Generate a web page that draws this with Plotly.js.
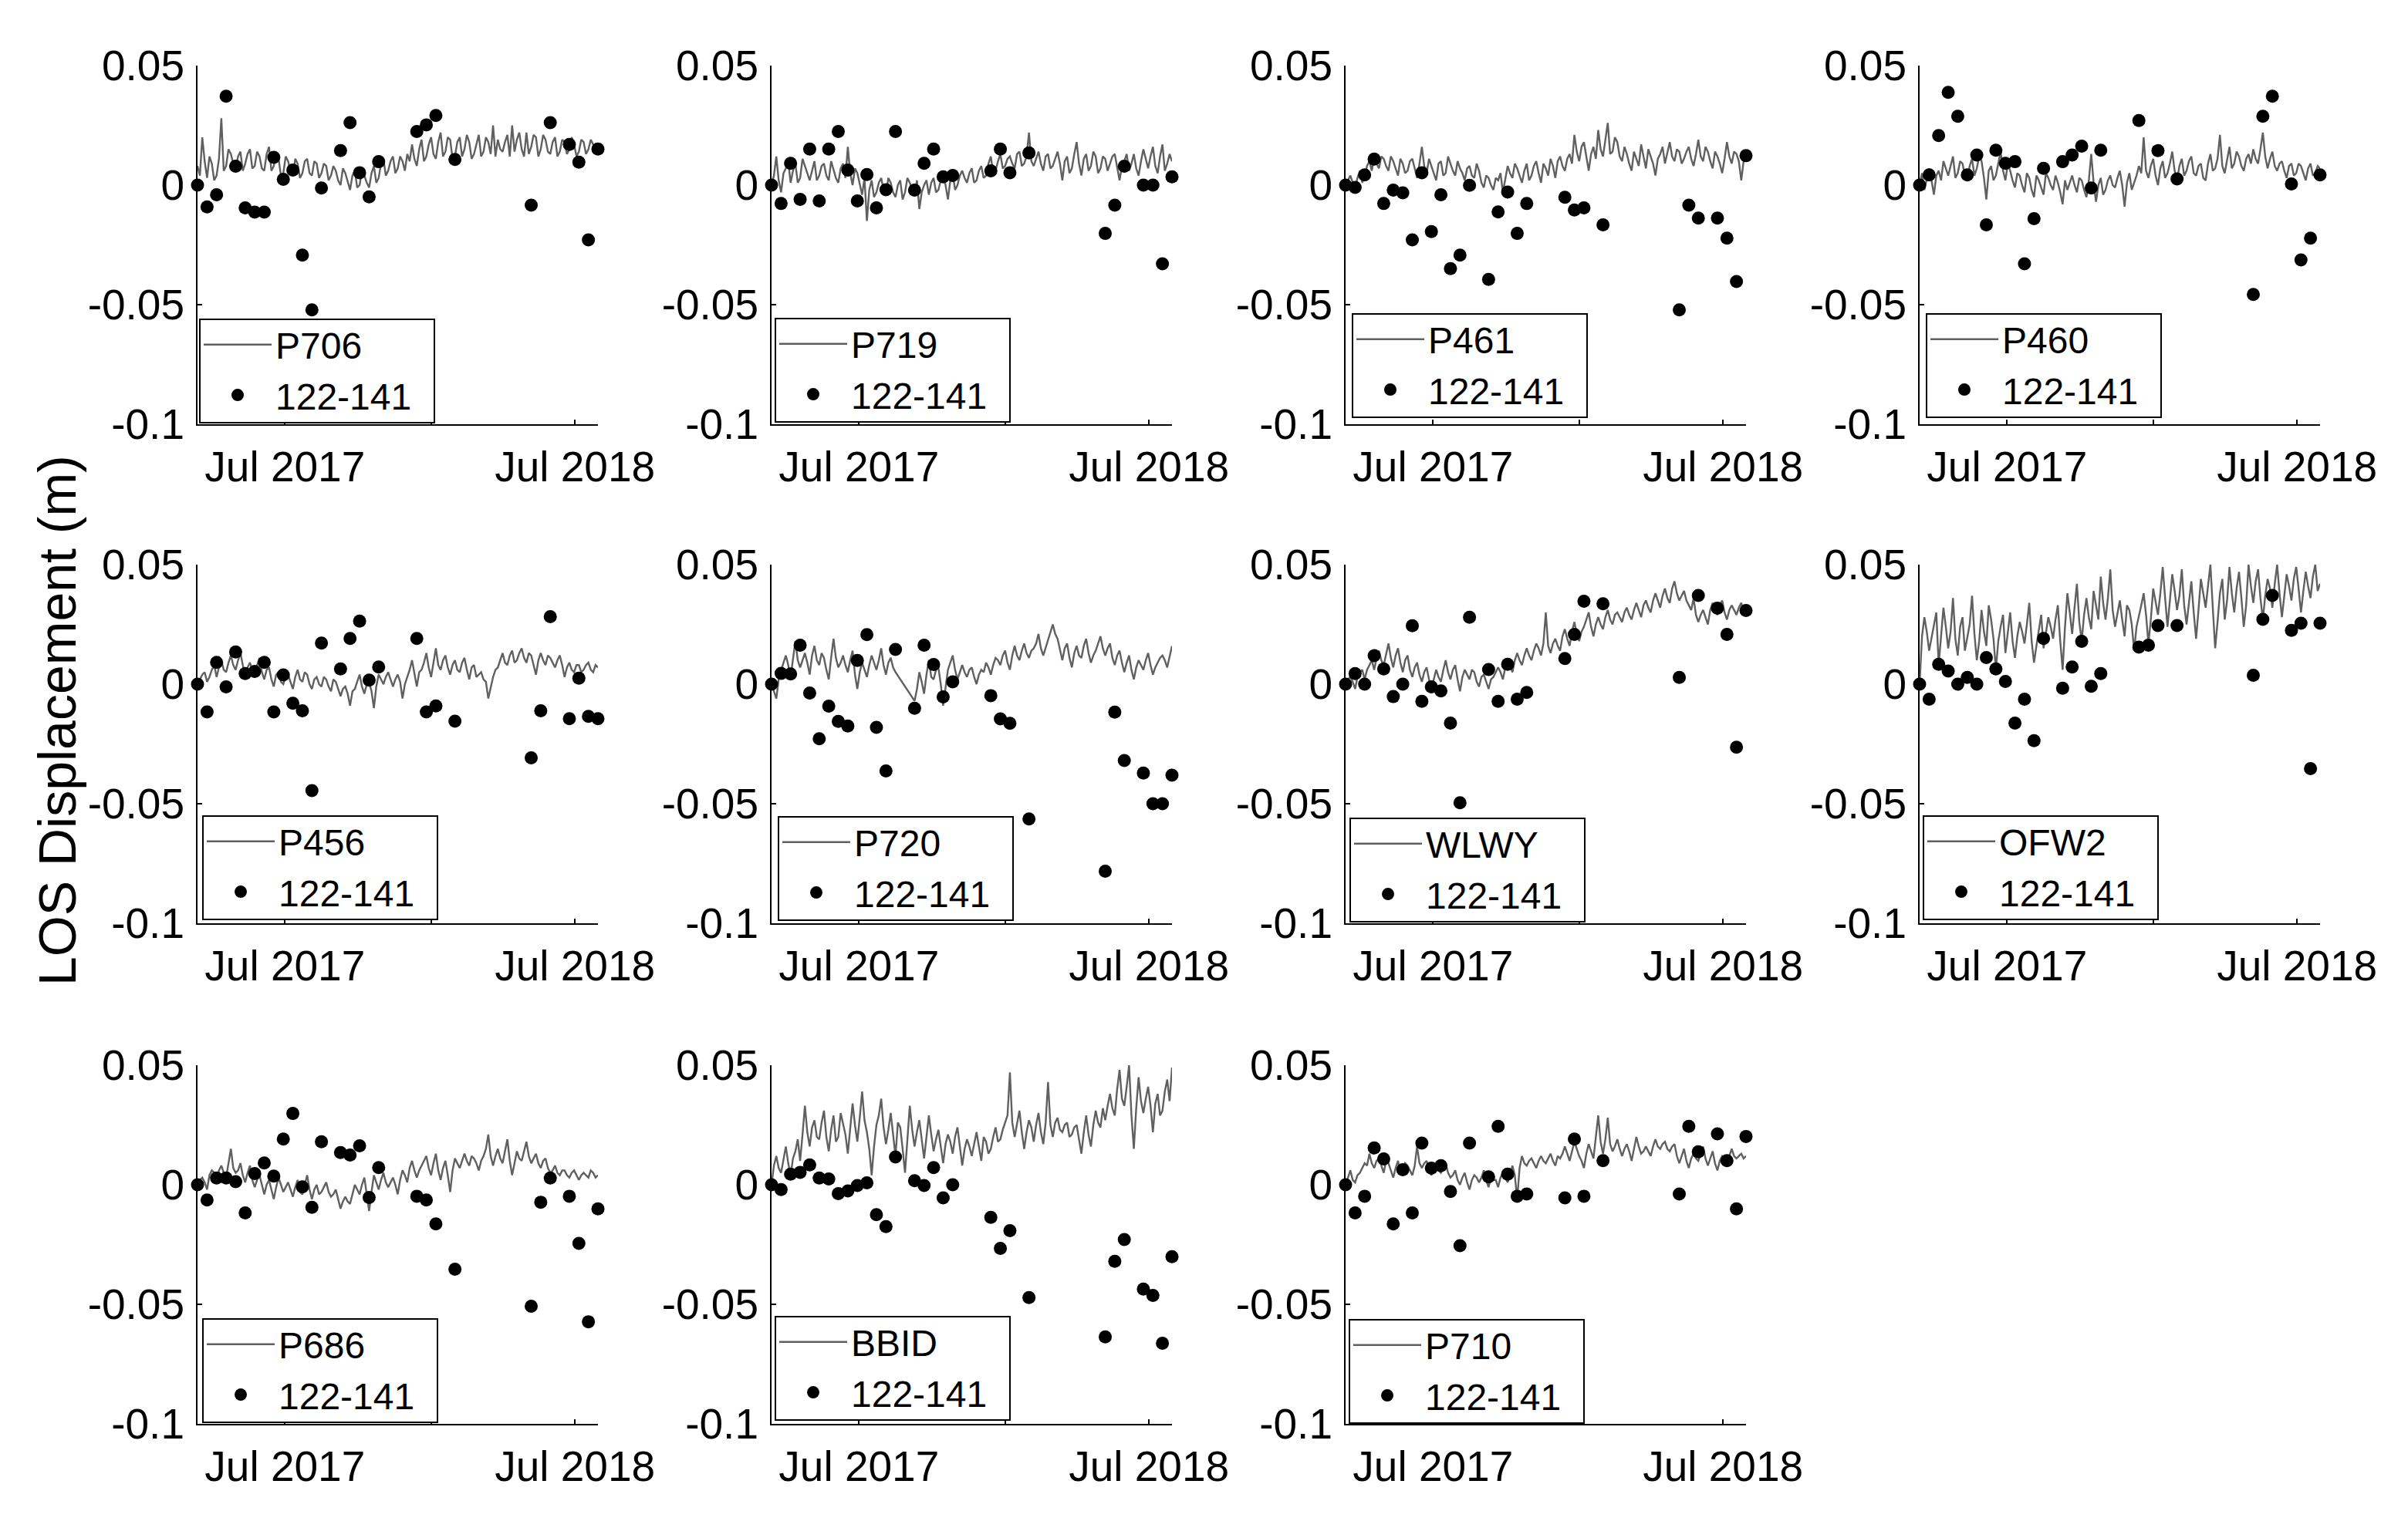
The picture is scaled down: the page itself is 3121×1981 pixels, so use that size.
<!DOCTYPE html>
<html><head><meta charset="utf-8">
<script src="https://cdn.plot.ly/plotly-3.0.1.min.js"></script>
<style>html,body{margin:0;padding:0;background:#fff}#chart{width:3121px;height:1981px}</style>
</head><body><div id="chart"></div>
<script>
// ---------------- DATA ----------------
const stations = ['P706','P719','P461','P460','P456','P720','WLWY','OFW2','P686','BBID','P710'];
const insarLabel = '122-141';

const insarDates = ['2017-03-13','2017-03-25','2017-04-06','2017-04-18','2017-04-30','2017-05-12','2017-05-24','2017-06-05','2017-06-17','2017-06-29',
'2017-07-11','2017-07-23','2017-08-04','2017-08-16','2017-09-09','2017-09-21','2017-10-03','2017-10-15','2017-10-27','2017-12-14',
'2017-12-26','2018-01-07','2018-01-31','2018-05-07','2018-05-19','2018-05-31','2018-06-24','2018-07-06','2018-07-18','2018-07-30'];

// GPS sample dates (every 3 days)
const gpsDates = [
'2017-03-13','2017-03-16','2017-03-19','2017-03-22','2017-03-25','2017-03-28','2017-03-31',
'2017-04-03','2017-04-06','2017-04-09','2017-04-12','2017-04-15','2017-04-18','2017-04-21','2017-04-24','2017-04-27','2017-04-30',
'2017-05-03','2017-05-06','2017-05-09','2017-05-12','2017-05-15','2017-05-18','2017-05-21','2017-05-24','2017-05-27','2017-05-30',
'2017-06-02','2017-06-05','2017-06-08','2017-06-11','2017-06-14','2017-06-17','2017-06-20','2017-06-23','2017-06-26','2017-06-29',
'2017-07-02','2017-07-05','2017-07-08','2017-07-11','2017-07-14','2017-07-17','2017-07-20','2017-07-23','2017-07-26','2017-07-29',
'2017-08-01','2017-08-04','2017-08-07','2017-08-10','2017-08-13','2017-08-16','2017-08-19','2017-08-22','2017-08-25','2017-08-28','2017-08-31',
'2017-09-03','2017-09-06','2017-09-09','2017-09-12','2017-09-15','2017-09-18','2017-09-21','2017-09-24','2017-09-27','2017-09-30',
'2017-10-03','2017-10-06','2017-10-09','2017-10-12','2017-10-15','2017-10-18','2017-10-21','2017-10-24','2017-10-27','2017-10-30',
'2017-11-02','2017-11-05','2017-11-08','2017-11-11','2017-11-14','2017-11-17','2017-11-20','2017-11-23','2017-11-26','2017-11-29',
'2017-12-02','2017-12-05','2017-12-08','2017-12-11','2017-12-14','2017-12-17','2017-12-20','2017-12-23','2017-12-26','2017-12-29',
'2018-01-01','2018-01-04','2018-01-07','2018-01-10','2018-01-13','2018-01-16','2018-01-19','2018-01-22','2018-01-25','2018-01-28','2018-01-31',
'2018-02-03','2018-02-06','2018-02-09','2018-02-12','2018-02-15','2018-02-18','2018-02-21','2018-02-24','2018-02-27',
'2018-03-02','2018-03-05','2018-03-08','2018-03-11','2018-03-14','2018-03-17','2018-03-20','2018-03-23','2018-03-26','2018-03-29',
'2018-04-01','2018-04-04','2018-04-07','2018-04-10','2018-04-13','2018-04-16','2018-04-19','2018-04-22','2018-04-25','2018-04-28',
'2018-05-01','2018-05-04','2018-05-07','2018-05-10','2018-05-13','2018-05-16','2018-05-19','2018-05-22','2018-05-25','2018-05-28','2018-05-31',
'2018-06-03','2018-06-06','2018-06-09','2018-06-12','2018-06-15','2018-06-18','2018-06-21','2018-06-24','2018-06-27','2018-06-30',
'2018-07-03','2018-07-06','2018-07-09','2018-07-12','2018-07-15','2018-07-18','2018-07-21','2018-07-24','2018-07-27','2018-07-30'];

// GPS LOS displacement (m)
const gps_P706 = [0.008,0.004,0.020,0.010,0.003,0.012,0.009,0.002,0.004,0.011,0.028,0.006,0.008,0.015,0.013,0.009,0.007,0.012,0.014,0.006,
0.009,0.013,0.015,0.007,0.008,0.014,0.012,0.007,0.006,0.013,0.016,0.006,0.008,0.013,0.011,0.004,0.005,0.012,0.010,0.006,
0.004,0.011,0.009,0.003,0.005,0.010,0.011,0.005,0.004,0.010,0.009,0.003,0.005,0.009,0.008,0.002,0.004,0.008,0.006,0.002,
0.000,0.007,0.005,0.001,-0.002,0.004,0.006,-0.001,0.000,0.006,0.004,0.001,-0.001,0.005,0.008,0.001,0.003,0.009,0.011,0.004,
0.006,0.010,0.012,0.005,0.007,0.012,0.010,0.006,0.013,0.010,0.017,0.011,0.008,0.015,0.019,0.010,0.012,0.017,0.020,0.013,
0.011,0.018,0.022,0.012,0.014,0.020,0.019,0.011,0.012,0.018,0.020,0.012,0.015,0.021,0.018,0.011,0.013,0.017,0.021,0.012,
0.014,0.020,0.018,0.013,0.025,0.012,0.019,0.015,0.014,0.018,0.021,0.012,0.025,0.014,0.019,0.022,0.015,0.012,0.022,0.013,
0.016,0.021,0.020,0.012,0.015,0.021,0.019,0.014,0.013,0.018,0.020,0.012,0.014,0.019,0.018,0.013,0.015,0.020,0.017,0.012,
0.014,0.019,0.018,0.013,0.015,0.019,0.017,0.014,0.016];
const gps_P719 = [0.000,0.004,0.012,0.002,-0.003,0.005,0.007,0.010,0.001,0.006,0.009,0.001,0.003,0.011,0.008,0.005,0.002,0.006,0.010,0.002,
0.004,0.008,0.009,0.004,0.002,0.010,0.006,0.003,0.001,0.007,0.009,0.003,0.016,0.005,0.000,0.007,0.005,0.001,-0.004,0.003,
-0.015,-0.002,0.002,-0.005,-0.003,0.001,0.003,-0.002,-0.004,0.003,0.001,-0.003,-0.005,0.000,0.002,-0.006,-0.003,0.003,0.001,-0.002,
-0.004,0.002,-0.010,-0.003,0.000,0.002,-0.004,0.001,0.003,-0.003,-0.002,0.002,0.004,0.000,-0.006,0.002,0.005,-0.002,0.000,0.004,
0.006,0.003,0.001,0.005,0.007,0.001,0.002,0.006,0.008,0.003,0.004,0.009,0.012,0.005,0.006,0.010,0.013,0.007,0.008,0.011,
0.012,0.009,0.007,0.013,0.014,0.008,0.009,0.012,0.022,0.010,0.008,0.011,0.014,0.009,0.006,0.012,0.013,0.007,0.008,0.011,
0.014,0.009,0.002,0.010,0.012,0.005,0.007,0.013,0.018,0.009,0.004,0.011,0.013,0.006,0.008,0.014,0.012,0.005,0.007,0.012,
0.011,0.006,0.009,0.012,0.013,0.008,0.002,0.008,0.010,0.013,0.006,0.009,0.013,0.007,0.004,0.010,0.015,0.011,0.007,0.012,
0.016,0.008,0.005,0.012,0.017,0.006,0.009,0.013,0.010];
const gps_P461 = [0.000,0.002,0.004,0.001,-0.001,0.003,0.006,0.001,0.004,0.008,0.010,0.006,0.012,0.009,0.007,0.012,0.011,0.008,0.006,0.012,
0.010,0.007,0.004,0.011,0.009,0.005,0.006,0.010,0.011,0.007,0.003,0.009,0.016,0.008,0.005,0.011,0.008,0.005,0.002,0.009,
0.010,0.004,0.005,0.012,0.009,0.006,0.004,0.010,0.007,0.005,0.002,0.007,0.008,0.004,0.003,0.009,0.006,0.001,-0.001,0.004,
0.003,0.000,-0.002,0.003,0.002,0.005,-0.003,0.002,0.008,0.005,0.003,0.009,0.007,0.004,0.001,0.006,0.009,0.002,0.004,0.008,
0.010,0.005,0.001,0.009,0.007,0.004,0.011,0.008,0.003,0.010,0.012,0.008,0.006,0.011,0.013,0.009,0.021,0.014,0.010,0.016,
0.018,0.012,0.006,0.013,0.016,0.011,0.023,0.015,0.012,0.019,0.026,0.013,0.014,0.020,0.018,0.012,0.010,0.016,0.013,0.009,
0.006,0.014,0.011,0.008,0.017,0.012,0.007,0.015,0.012,0.009,0.004,0.011,0.013,0.016,0.009,0.013,0.018,0.012,0.010,0.015,
0.014,0.009,0.011,0.014,0.016,0.011,0.008,0.013,0.019,0.012,0.010,0.016,0.014,0.010,0.007,0.014,0.012,0.009,0.005,0.011,
0.018,0.012,0.009,0.014,0.013,0.010,0.002,0.010,0.012];
const gps_P460 = [0.000,0.005,-0.002,0.003,0.007,0.002,-0.004,0.004,0.006,0.002,0.010,0.007,0.004,0.008,0.012,0.003,0.005,0.010,0.009,0.004,
0.003,0.008,0.011,0.004,0.007,0.012,0.010,0.003,-0.006,0.006,0.008,0.002,0.004,0.009,0.014,0.006,0.002,0.009,0.006,0.002,
-0.001,0.005,0.004,0.000,-0.003,0.005,0.003,-0.002,-0.005,0.004,0.002,-0.001,-0.004,0.005,0.003,0.000,-0.002,0.004,0.001,-0.003,
-0.008,0.002,-0.002,0.001,0.004,0.000,-0.003,0.003,0.002,-0.002,-0.005,0.002,0.013,0.001,-0.007,0.000,0.003,-0.004,-0.002,0.002,
0.004,0.000,-0.001,0.003,0.006,0.000,-0.009,0.001,0.005,-0.002,0.001,0.004,0.008,0.005,0.020,0.006,0.003,0.008,0.011,0.004,
0.000,0.007,0.010,0.003,0.005,0.009,0.014,0.006,0.002,0.008,0.011,0.004,0.006,0.010,0.012,0.005,0.004,0.008,0.009,0.003,
0.002,0.009,0.013,0.006,0.007,0.011,0.021,0.008,0.005,0.010,0.016,0.007,0.009,0.014,0.012,0.008,0.006,0.011,0.013,0.009,
0.015,0.011,0.009,0.015,0.022,0.012,0.007,0.011,0.014,0.008,0.006,0.009,0.010,0.006,0.003,0.008,0.009,0.004,0.005,0.009,
0.008,0.005,0.002,0.007,0.009,0.004,0.005,0.008,0.007];
const gps_P456 = [0.000,0.002,0.004,0.005,0.001,0.003,0.006,0.008,0.003,0.007,0.010,0.006,0.005,0.009,0.012,0.008,0.006,0.010,0.013,0.008,
0.004,0.007,0.009,0.006,0.003,0.008,0.011,0.005,0.002,0.006,0.007,0.002,-0.001,0.004,0.005,0.001,0.000,0.003,0.004,0.001,
-0.002,0.003,0.006,0.002,0.001,0.005,0.004,0.000,-0.002,0.002,0.003,0.000,-0.001,0.003,0.002,-0.001,-0.003,0.002,0.001,-0.002,
-0.005,-0.002,-0.001,-0.004,-0.009,-0.003,-0.002,0.001,0.004,-0.001,-0.004,0.000,0.001,-0.003,-0.010,-0.001,0.004,0.002,0.000,0.003,
0.005,0.002,-0.001,0.002,0.004,0.001,-0.006,0.000,0.003,0.006,0.010,0.004,-0.001,0.005,0.006,0.009,0.013,0.007,0.003,0.009,
0.015,0.008,0.006,0.010,0.012,0.007,0.004,0.008,0.010,0.006,0.005,0.009,0.011,0.006,0.002,0.007,0.008,0.003,0.004,0.005,
0.002,0.001,-0.006,-0.001,0.003,0.006,0.007,0.010,0.013,0.009,0.008,0.012,0.014,0.009,0.010,0.013,0.015,0.011,0.009,0.013,
0.012,0.008,0.004,0.010,0.013,0.010,0.008,0.012,0.011,0.009,0.007,0.010,0.012,0.008,0.003,0.007,0.009,0.006,0.005,0.008,
0.008,0.005,0.006,0.008,0.009,0.006,0.005,0.008,0.007];
const gps_P720 = [0.000,-0.003,-0.006,0.002,0.006,0.009,0.012,0.008,0.003,0.011,0.018,0.010,0.007,0.010,0.013,0.009,0.004,0.012,0.016,0.010,
0.008,0.013,0.011,0.006,0.002,0.011,0.019,0.011,0.007,0.009,0.012,0.008,0.005,0.010,0.014,0.004,-0.002,0.005,0.009,0.006,
0.003,0.008,0.012,0.009,0.006,0.010,0.015,0.008,0.004,0.009,0.011,0.007,0.005,null,null,null,null,null,null,null,
-0.007,-0.002,0.005,0.001,-0.004,0.004,0.010,0.003,0.002,0.006,0.007,0.000,-0.009,-0.001,0.006,0.009,0.012,0.006,0.002,0.005,
0.008,0.005,0.003,0.006,0.007,0.003,0.000,0.004,0.006,0.005,0.009,0.007,0.004,0.008,0.011,0.010,0.008,0.012,0.014,0.009,
0.006,0.012,0.016,0.012,0.010,0.014,0.017,0.013,0.011,0.014,0.015,0.017,0.021,0.015,0.012,null,null,null,0.025,0.021,
0.019,0.014,0.010,0.015,0.017,0.011,0.007,0.013,0.016,0.012,0.011,0.016,0.019,0.013,0.009,0.012,0.014,0.017,0.020,0.015,
0.012,0.015,0.017,0.011,0.008,0.012,0.014,0.009,0.005,0.009,0.012,0.006,0.002,0.007,0.010,0.008,0.006,0.010,0.013,0.008,
0.004,0.007,0.009,0.011,0.012,0.010,0.007,0.012,0.016];
const gps_WLWY = [0.000,0.002,0.003,0.001,-0.002,0.003,0.005,0.006,0.002,0.006,0.008,0.010,0.006,0.011,0.014,0.010,0.008,0.013,0.017,0.011,
0.007,0.012,0.015,0.009,0.005,0.010,0.012,0.006,0.003,0.007,0.009,0.004,0.001,0.005,0.007,0.002,-0.003,0.002,0.006,0.003,
0.001,0.006,0.010,0.005,0.002,0.006,0.008,0.002,-0.003,0.003,0.006,0.004,0.002,0.006,0.005,0.001,-0.001,0.003,0.004,0.001,
-0.002,0.002,0.003,0.005,0.007,0.005,0.002,0.007,0.010,0.008,0.005,0.010,0.013,0.010,0.008,0.012,0.015,0.012,0.010,0.014,
0.017,0.015,0.012,0.017,0.030,0.016,0.013,0.017,0.019,0.016,0.014,0.020,0.023,0.019,0.016,0.022,0.026,0.021,0.018,0.022,
0.024,0.027,0.030,0.024,0.020,0.025,0.028,0.025,0.023,0.028,0.031,0.027,0.025,0.029,0.030,0.028,0.026,0.030,0.032,0.029,
0.027,0.031,0.034,0.031,0.028,0.033,0.035,0.032,0.030,0.035,0.038,0.035,0.032,0.037,0.040,0.036,0.034,0.040,0.043,0.038,
0.035,0.037,0.039,0.035,0.033,0.031,0.036,0.029,0.026,0.029,0.031,0.028,0.025,0.031,0.034,0.031,0.029,0.033,0.035,0.030,
0.027,0.031,0.033,0.031,0.029,0.032,0.034,0.030,0.031];
const gps_OFW2 = [0.000,0.020,0.028,0.022,0.014,0.019,0.024,0.030,0.008,0.021,0.032,0.024,0.015,0.022,0.036,0.019,0.012,0.024,0.028,0.014,
0.019,0.025,0.037,0.021,0.010,0.018,0.031,0.022,0.016,0.033,0.027,0.019,0.006,0.018,0.024,0.029,0.013,0.021,0.030,0.018,
0.011,0.020,0.026,0.022,0.017,0.025,0.034,0.018,0.009,0.016,0.022,0.029,0.015,0.021,0.028,0.024,0.019,0.027,0.033,0.018,
0.006,0.024,0.038,0.030,0.021,0.032,0.042,0.026,0.018,0.029,0.036,0.028,0.023,0.039,0.033,0.027,0.045,0.034,0.027,0.036,
0.048,0.031,0.024,0.029,0.035,0.027,0.020,0.033,0.031,0.025,0.014,0.024,0.028,0.033,0.038,0.029,0.017,0.027,0.040,0.034,
0.029,0.038,0.049,0.036,0.024,0.035,0.046,0.039,0.031,0.037,0.048,0.033,0.025,0.034,0.043,0.030,0.019,0.031,0.044,0.038,
0.032,0.041,0.050,0.032,0.015,0.026,0.038,0.044,0.027,0.035,0.049,0.038,0.030,0.040,0.047,0.036,0.024,0.033,0.050,0.041,
0.034,0.043,0.048,0.036,0.027,0.037,0.044,0.040,0.032,0.042,0.050,0.038,0.028,0.037,0.046,0.041,0.035,0.044,0.049,0.040,
0.030,0.039,0.047,0.041,0.036,0.045,0.050,0.039,0.042];
const gps_P686 = [0.000,0.002,0.003,0.001,-0.002,0.004,0.006,0.005,0.002,0.006,0.008,0.005,0.003,0.009,0.015,0.007,0.005,0.006,0.009,0.004,
0.001,0.005,0.008,0.002,-0.001,0.002,0.004,0.000,-0.004,0.000,0.002,-0.002,-0.006,-0.001,0.003,0.000,-0.003,-0.001,0.001,-0.002,
-0.005,-0.001,0.002,-0.003,-0.004,0.000,0.004,-0.002,-0.006,-0.002,0.000,-0.004,-0.003,-0.001,0.001,-0.003,-0.005,-0.004,-0.002,-0.006,
-0.010,-0.007,-0.005,-0.007,-0.008,-0.004,0.000,-0.002,-0.004,0.000,0.003,-0.004,-0.011,-0.003,0.004,0.001,-0.002,0.002,0.005,0.001,
-0.001,0.001,0.003,0.000,-0.004,0.002,0.006,0.004,0.001,0.007,0.010,0.006,0.003,0.006,0.008,0.010,0.012,0.007,0.004,0.009,
0.013,0.006,0.002,0.007,0.010,0.004,-0.003,0.006,0.011,0.009,0.007,0.010,0.013,0.010,0.008,0.012,0.011,0.009,0.006,0.010,
0.012,0.015,0.021,0.012,0.008,0.012,0.015,0.011,0.009,0.014,0.019,0.010,0.004,0.009,0.014,0.011,0.010,0.014,0.018,0.012,
0.009,0.011,0.013,0.009,0.007,0.010,0.011,0.007,0.005,0.006,0.008,0.005,0.004,0.006,0.006,0.004,0.003,0.005,0.006,0.004,
0.002,0.004,0.005,0.004,0.003,0.006,0.005,0.003,0.004];
const gps_BBID = [0.000,0.008,0.012,0.007,0.005,0.010,0.016,0.009,0.004,0.011,0.014,0.019,0.010,0.021,0.033,0.022,0.016,0.024,0.027,0.020,
0.019,0.026,0.031,0.020,0.014,0.023,0.029,0.018,0.020,0.030,0.026,0.021,0.013,0.024,0.034,0.025,0.018,0.028,0.039,0.027,
0.022,0.015,0.004,0.016,0.025,0.029,0.036,0.024,0.017,0.023,0.030,0.021,0.012,0.026,0.024,0.015,0.005,0.019,0.033,0.023,
0.016,0.022,0.027,0.019,0.011,0.020,0.029,0.021,0.014,0.019,0.023,0.016,0.009,0.017,0.021,0.018,0.013,0.020,0.024,0.016,
0.008,0.015,0.019,0.016,0.012,0.017,0.022,0.016,0.010,0.020,0.018,0.013,0.015,0.020,0.024,0.018,0.019,0.023,0.026,0.029,
0.047,0.026,0.020,0.025,0.031,0.022,0.015,0.022,0.027,0.024,0.018,0.025,0.030,0.022,0.017,0.026,0.043,0.025,0.020,0.026,
0.028,0.023,0.022,0.025,0.026,0.020,0.021,0.024,0.025,0.019,0.013,0.022,0.029,0.021,0.016,0.025,0.031,0.026,0.024,0.032,
0.027,0.033,0.038,0.032,0.029,0.040,0.048,0.036,0.033,0.041,0.050,0.029,0.015,0.032,0.045,0.035,0.030,0.036,0.041,0.033,
0.022,0.034,0.038,0.029,0.031,0.039,0.044,0.035,0.049];
const gps_P710 = [0.000,0.003,0.006,0.002,0.001,0.004,0.005,0.007,0.009,0.008,0.013,0.009,0.007,0.010,0.011,0.008,0.005,0.010,0.009,0.006,
0.003,0.007,0.010,0.005,0.006,0.009,0.008,0.006,0.004,0.008,0.016,0.009,0.007,0.009,0.010,0.006,0.004,0.007,0.008,0.006,
0.005,0.007,0.009,0.005,0.003,0.004,0.006,0.002,0.000,0.003,0.005,0.001,-0.002,0.002,0.004,0.003,0.001,0.003,0.006,0.002,
-0.001,0.003,0.002,0.002,-0.001,0.003,0.005,0.003,0.001,0.004,0.008,0.004,-0.006,0.007,0.012,0.009,0.008,0.010,0.011,0.009,
0.007,0.010,0.012,0.010,0.009,0.011,0.013,0.010,0.008,0.012,0.011,0.013,0.016,0.013,0.010,0.014,0.018,0.015,0.012,0.010,
0.007,0.013,0.017,0.014,0.011,0.020,0.029,0.018,0.013,0.019,0.028,0.017,0.014,0.016,0.019,0.015,0.012,0.015,0.017,0.014,
0.010,0.015,0.020,0.016,0.013,0.014,0.016,0.014,0.012,0.016,0.019,0.016,0.015,0.017,0.018,0.015,0.014,0.016,0.017,0.012,
0.009,0.012,0.015,0.010,0.007,0.011,0.013,0.011,0.010,0.013,0.016,0.011,0.008,0.011,0.014,0.009,0.006,0.010,0.012,0.011,
0.009,0.012,0.015,0.012,0.011,0.012,0.013,0.011,0.012];

// InSAR (track 122-141) LOS displacement (m) at the acquisition dates
const insar_P706 = [0,-0.0091,-0.0040,0.0372,0.0079,-0.0095,-0.0113,-0.0113,0.0116,0.0024,0.0063,-0.0293,-0.0522,-0.0012,0.0144,0.0261,0.0052,-0.0049,0.0098,0.0224,0.0252,0.0291,0.0107,-0.0084,null,0.0261,0.0170,0.0096,-0.0229,0.0151];
const insar_P719 = [0,-0.0077,0.0091,-0.0060,0.0151,-0.0066,0.0151,0.0224,0.0063,-0.0066,0.0044,-0.0095,-0.0019,0.0224,-0.0021,0.0091,0.0151,0.0035,0.0040,0.0060,0.0151,0.0052,0.0135,-0.0202,-0.0084,0.0079,0,0,-0.0329,0.0035];
const insar_P461 = [0,-0.0010,0.0043,0.0109,-0.0077,-0.0021,-0.0032,-0.0229,0.0052,-0.0194,-0.0040,-0.0349,-0.0293,-0.0001,-0.0394,-0.0112,-0.0029,-0.0202,-0.0077,-0.0051,-0.0104,-0.0095,-0.0166,-0.0522,-0.0084,-0.0138,-0.0138,-0.0222,-0.0403,0.0123];
const insar_P460 = [0,0.0043,0.0207,0.0388,0.0288,0.0043,0.0126,-0.0166,0.0146,0.0091,0.0098,-0.0329,-0.0140,0.0070,0.0098,0.0126,0.0163,-0.0012,0.0146,0.0270,null,0.0144,0.0026,-0.0457,0.0288,0.0372,0.0005,-0.0313,-0.0222,0.0043];
const insar_P456 = [0,-0.0116,0.0091,-0.0011,0.0135,0.0044,0.0053,0.0091,-0.0116,0.0039,-0.0080,-0.0111,-0.0445,0.0172,0.0064,0.0191,0.0264,0.0017,0.0072,0.0191,-0.0116,-0.0091,-0.0155,-0.0308,-0.0111,0.0282,-0.0144,0.0025,-0.0135,-0.0144];
const insar_P720 = [0,0.0045,0.0043,0.0163,-0.0037,-0.0228,-0.0092,-0.0156,-0.0175,0.0099,0.0207,-0.0181,-0.0363,0.0145,-0.0101,0.0163,0.0082,-0.0053,0.0010,-0.0048,-0.0145,-0.0164,-0.0564,-0.0782,-0.0117,-0.0319,-0.0372,-0.0500,-0.0500,-0.0381];
const insar_WLWY = [0,0.0044,0,0.0119,0.0064,-0.0052,0,0.0244,-0.0072,-0.0011,-0.0028,-0.0163,-0.0496,0.0280,0.0061,-0.0072,0.0083,-0.0063,-0.0035,0.0107,0.0208,0.0347,0.0336,0.0028,null,0.0371,0.0318,0.0208,-0.0264,0.0308];
const insar_OFW2 = [0,-0.0063,0.0083,0.0055,0,0.0028,0,0.0111,0.0064,0.0011,-0.0163,-0.0063,-0.0236,0.0191,-0.0017,0.0072,0.0179,-0.0009,0.0044,0.0155,0.0163,0.0245,0.0245,0.0037,0.0271,0.0371,0.0225,0.0255,-0.0353,0.0255];
const insar_P686 = [0,-0.0064,0.0028,0.0028,0.0013,-0.0118,0.0047,0.0091,0.0036,0.0191,0.0298,-0.0009,-0.0094,0.0180,0.0135,0.0124,0.0163,-0.0053,0.0072,-0.0048,-0.0064,-0.0164,-0.0353,-0.0508,-0.0073,0.0028,-0.0048,-0.0245,-0.0573,-0.0101];
const insar_BBID = [0,-0.0020,0.0044,0.0052,0.0083,0.0028,0.0024,-0.0037,-0.0026,-0.0003,0.0008,-0.0125,-0.0175,0.0116,0.0017,-0.0003,0.0072,-0.0055,0,-0.0136,-0.0266,-0.0192,-0.0472,-0.0636,-0.0320,-0.0229,-0.0436,-0.0463,-0.0663,-0.0301];
const insar_P710 = [0,-0.0118,-0.0048,0.0154,0.0108,-0.0164,0.0063,-0.0118,0.0174,0.0069,0.0080,-0.0028,-0.0255,0.0174,0.0033,0.0244,0.0044,-0.0048,-0.0039,-0.0055,0.0191,-0.0048,0.0101,-0.0039,0.0244,0.0138,0.0213,0.0101,-0.0101,0.0202];

const yTickVals = [-0.1,-0.05,0,0.05];
const yTickText = ['-0.1','-0.05','0','0.05'];
const xTickVals = ['2017-07-01','2018-01-01','2018-07-01'];
const xTickText = ['Jul 2017','','Jul 2018'];
const yAxisLabel = 'LOS Displacement (m)';

const gpsSeries = [gps_P706,gps_P719,gps_P461,gps_P460,gps_P456,gps_P720,gps_WLWY,gps_OFW2,gps_P686,gps_BBID,gps_P710];
const insarSeries = [insar_P706,insar_P719,insar_P461,insar_P460,insar_P456,insar_P720,insar_WLWY,insar_OFW2,insar_P686,insar_BBID,insar_P710];

// ---------------- LAYOUT (pixel geometry of the figure) ----------------
const W = 3121, H = 1981;
const colLeft = [256, 1000, 1744, 2488], plotW = 519;
const rowTop = [85, 732, 1381], plotH = 465;
// legend boxes: [left, bottom] in px, size 304 x 134
const legendBox = [[259,548],[1005,547],[1753,541],[2497,541],[263,1192],[1009,1193],[1750,1195],[2493,1192],[263,1844],[1005,1841],[1749,1845]];
const legW = 304, legH = 134;
const FONT = 'Liberation Sans, Arial, Helvetica, sans-serif';

const traces = [];
const shapes = [];
const layout = {
  width: W, height: H,
  margin: {l:0, r:0, t:0, b:0},
  paper_bgcolor: '#ffffff', plot_bgcolor: '#ffffff',
  font: {family: FONT, color: '#000000', size: 55},
  showlegend: true,
  shapes: shapes,
  annotations: [{
    text: yAxisLabel, xref: 'paper', yref: 'paper',
    x: 74 / W, y: 1 - 934 / H, xanchor: 'center', yanchor: 'middle',
    textangle: -90, showarrow: false,
    font: {family: FONT, size: 68, color: '#000000'}
  }]
};

stations.forEach((name, k) => {
  const row = Math.floor(k / 4), col = k % 4;
  const sfx = k === 0 ? '' : String(k + 1);
  const xa = 'x' + sfx, ya = 'y' + sfx;
  const leg = 'legend' + sfx;

  traces.push({
    type: 'scatter', mode: 'lines', x: gpsDates, y: gpsSeries[k],
    xaxis: xa, yaxis: ya, name: name, legend: leg, connectgaps: true,
    line: {color: '#606060', width: 2.4}, hoverinfo: 'skip'
  });
  traces.push({
    type: 'scatter', mode: 'markers', x: insarDates, y: insarSeries[k],
    xaxis: xa, yaxis: ya, name: insarLabel, legend: leg, cliponaxis: false,
    marker: {color: '#000000', size: 17}, hoverinfo: 'skip'
  });

  const x0 = colLeft[col] / W, x1 = (colLeft[col] + plotW) / W;
  const y1 = 1 - rowTop[row] / H, y0 = 1 - (rowTop[row] + plotH) / H;

  const axCommon = {
    ticks: 'inside', ticklen: 6, tickwidth: 2, tickcolor: '#000',
    showline: true, linecolor: '#000', linewidth: 2, mirror: false,
    showgrid: false, zeroline: false,
    tickfont: {family: FONT, size: 55, color: '#000'}
  };
  layout['xaxis' + sfx] = Object.assign({
    domain: [x0, x1], anchor: ya, type: 'date',
    range: ['2017-03-13', '2018-07-30'],
    tickmode: 'array', tickvals: xTickVals, ticktext: xTickText,
    ticklabelstandoff: 6
  }, axCommon);
  layout['yaxis' + sfx] = Object.assign({
    domain: [y0, y1], anchor: xa,
    range: [-0.1, 0.05],
    tickmode: 'array', tickvals: yTickVals, ticktext: yTickText,
    ticklabelstandoff: 4
  }, axCommon);

  const bx = legendBox[k][0], bb = legendBox[k][1];
  shapes.push({
    type: 'rect', xref: 'paper', yref: 'paper', layer: 'above',
    x0: bx / W, x1: (bx + legW) / W, y0: 1 - bb / H, y1: 1 - (bb - legH) / H,
    fillcolor: '#ffffff', line: {color: '#000000', width: 2}
  });
  layout[leg] = {
    x: bx / W, y: 1 - (bb - legH - 5) / H,
    xanchor: 'left', yanchor: 'top',
    bgcolor: 'rgba(0,0,0,0)', borderwidth: 0,
    font: {family: FONT, size: 48, color: '#000'},
    itemwidth: 88, tracegroupgap: 0, traceorder: 'normal'
  };
});

Plotly.newPlot('chart', traces, layout, {displayModeBar: false, staticPlot: true});
</script>
</body></html>
